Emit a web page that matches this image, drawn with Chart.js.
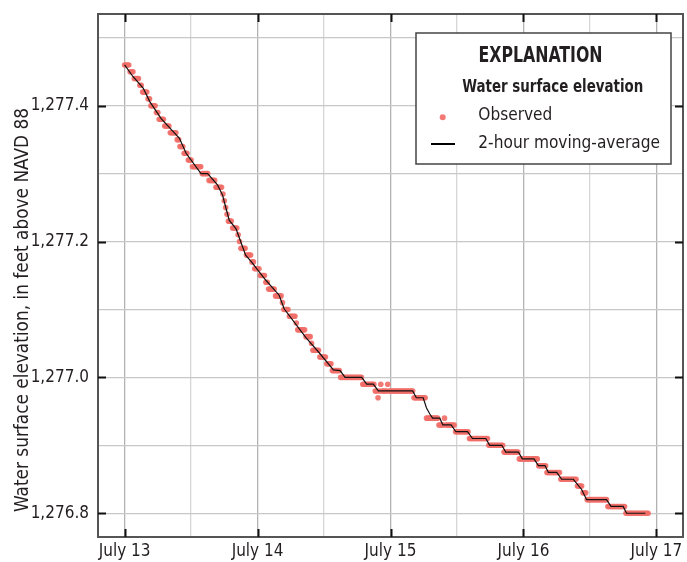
<!DOCTYPE html>
<html>
<head>
<meta charset="utf-8">
<script src="https://cdn.jsdelivr.net/npm/chart.js@4.4.1/dist/chart.umd.min.js"></script>
<style>
  html, body { margin: 0; padding: 0; background: #fff; }
  canvas { display: block; }
</style>
</head>
<body>
<canvas id="c" width="687" height="562"></canvas>
<script>
// ---------- DATA ----------
const dayTickHours = [0, 24, 48, 72, 96];
const dayTickLabels = ['July 13', 'July 14', 'July 15', 'July 16', 'July 17'];
const elevTickValues = [1276.8, 1277.0, 1277.2, 1277.4];

// Observed readings, every 15 minutes starting July 13 00:00
const obsStartHour = 0;
const obsStepHours = 0.25;
const obsValues = [
  1277.46,1277.46,1277.46,1277.46, 1277.45,1277.45,1277.45,1277.44,
  1277.44,1277.44,1277.44,1277.43, 1277.43,1277.42,1277.42,1277.42,
  1277.42,1277.41,1277.41,1277.40, 1277.40,1277.40,1277.40,1277.39,
  1277.39,1277.38,1277.38,1277.38, 1277.38,1277.37,1277.37,1277.37,
  1277.37,1277.36,1277.36,1277.36, 1277.36,1277.36,1277.35,1277.35,
  1277.34,1277.34,1277.34,1277.33, 1277.33,1277.33,1277.32,1277.32,
  1277.32,1277.31,1277.31,1277.31, 1277.31,1277.31,1277.31,1277.31,
  1277.30,1277.30,1277.30,1277.30, 1277.30,1277.29,1277.29,1277.29,
  1277.29,1277.29,1277.28,1277.28, 1277.28,1277.28,1277.28,1277.27,
  1277.26,1277.25,1277.24,1277.23, 1277.23,1277.23,1277.22,1277.22,
  1277.22,1277.22,1277.21,1277.20, 1277.19,1277.19,1277.19,1277.19,
  1277.18,1277.18,1277.18,1277.18, 1277.17,1277.17,1277.16,1277.16,
  1277.16,1277.16,1277.15,1277.15, 1277.15,1277.15,1277.14,1277.14,
  1277.13,1277.13,1277.13,1277.13, 1277.13,1277.12,1277.12,1277.12,
  1277.12,1277.12,1277.11,1277.10, 1277.10,1277.10,1277.10,1277.09,
  1277.09,1277.09,1277.09,1277.09, 1277.08,1277.07,1277.07,1277.07,
  1277.07,1277.07,1277.07,1277.06, 1277.06,1277.06,1277.06,1277.05,
  1277.04,1277.04,1277.04,1277.04, 1277.04,1277.03,1277.03,1277.03,
  1277.03,1277.03,1277.02,1277.02, 1277.02,1277.02,1277.01,1277.01,
  1277.01,1277.01,1277.01,1277.01, 1277.00,1277.00,1277.00,1277.00,
  1277.00,1277.00,1277.00,1277.00, 1277.00,1277.00,1277.00,1277.00,
  1277.00,1277.00,1277.00,1277.00, 1276.99,1276.99,1276.99,1276.99,
  1276.99,1276.99,1276.99,1276.99, 1276.99,1276.98,1276.98,1276.97,
  1276.98,1276.99,1276.98,1276.98, 1276.98,1276.98,1276.99,1276.98,
  1276.98,1276.98,1276.98,1276.98, 1276.98,1276.98,1276.98,1276.98,
  1276.98,1276.98,1276.98,1276.98, 1276.98,1276.98,1276.98,1276.98,
  1276.98,1276.97,1276.97,1276.97, 1276.97,1276.97,1276.97,1276.97,
  1276.97,1276.97,1276.94,1276.94, 1276.94,1276.94,1276.94,1276.94,
  1276.94,1276.94,1276.94,1276.93, 1276.93,1276.93,1276.93,1276.94,
  1276.93,1276.93,1276.93,1276.93, 1276.93,1276.93,1276.93,1276.92,
  1276.92,1276.92,1276.92,1276.92, 1276.92,1276.92,1276.92,1276.92,
  1276.92,1276.91,1276.91,1276.91, 1276.91,1276.91,1276.91,1276.91,
  1276.91,1276.91,1276.91,1276.91, 1276.91,1276.91,1276.91,1276.90,
  1276.90,1276.90,1276.90,1276.90, 1276.90,1276.90,1276.90,1276.90,
  1276.90,1276.90,1276.89,1276.89, 1276.89,1276.89,1276.89,1276.89,
  1276.89,1276.89,1276.89,1276.89, 1276.89,1276.88,1276.88,1276.88,
  1276.88,1276.88,1276.88,1276.88, 1276.88,1276.88,1276.88,1276.88,
  1276.88,1276.88,1276.88,1276.87, 1276.87,1276.87,1276.87,1276.87,
  1276.87,1276.86,1276.86,1276.86, 1276.86,1276.86,1276.86,1276.86,
  1276.86,1276.86,1276.86,1276.85, 1276.85,1276.85,1276.85,1276.85,
  1276.85,1276.85,1276.85,1276.85, 1276.85,1276.85,1276.85,1276.84,
  1276.84,1276.84,1276.84,1276.83, 1276.83,1276.83,1276.82,1276.82,
  1276.82,1276.82,1276.82,1276.82, 1276.82,1276.82,1276.82,1276.82,
  1276.82,1276.82,1276.82,1276.82, 1276.82,1276.81,1276.81,1276.81,
  1276.81,1276.81,1276.81,1276.81, 1276.81,1276.81,1276.81,1276.81,
  1276.81,1276.81,1276.80,1276.80, 1276.80,1276.80,1276.80,1276.80,
  1276.80,1276.80,1276.80,1276.80, 1276.80,1276.80,1276.80,1276.80,
  1276.80,1276.80,1276.80
];

// 2-hour moving-average line (hours since July 13 00:00, elevation)
const maHours = [0,1.5,3.35,4.55,6.6,9.9,11.1,13.8,15.0,16.8,17.7,18.3,18.9,20.1,21.0,
  21.85,22.9,25.5,27.9,28.8,32.7,35.05,37.7,38.9,39.8,42.8,43.7,44.9,45.8,52.0,
  52.66,53.9,54.5,55.1,55.6,56.9,57.45,58.95,59.8,61.9,62.8,65.2,65.9,68.1,68.8,
  71.1,71.8,73.9,74.7,75.9,76.5,78.0,78.9,81.0,82.5,83.4,87.0,87.8,90.0,90.6,94.0];
const maValues = [1277.46,1277.443,1277.426,1277.406,1277.381,1277.352,1277.33,1277.30,1277.30,1277.283,
  1277.268,1277.249,1277.231,1277.219,1277.199,1277.18,1277.17,1277.143,1277.121,1277.101,
  1277.059,1277.037,1277.011,1277.01,1277.00,1277.00,1276.99,1276.99,1276.98,1276.98,
  1276.97,1276.97,1276.955,1276.946,1276.94,1276.94,1276.93,1276.93,1276.92,1276.92,
  1276.91,1276.91,1276.90,1276.90,1276.89,1276.89,1276.88,1276.88,1276.87,1276.87,
  1276.86,1276.86,1276.85,1276.85,1276.835,1276.82,1276.82,1276.81,1276.81,1276.80,1276.80];

const legendTitle = 'EXPLANATION';
const legendSubtitle = 'Water surface elevation';
const yTitle = 'Water surface elevation, in feet above NAVD 88';

// ---------- CHART ----------
const FONT = "'Liberation Sans Narrow', 'Arial Narrow', 'DejaVu Sans Condensed', sans-serif";
const RED = 'rgba(241,110,104,0.92)';

const obsPoints = obsValues.map((v, i) => ({ x: obsStartHour + i * obsStepHours, y: v }));
const maPoints = maHours.map((h, i) => ({ x: h, y: maValues[i] }));

function fitText(ctx, text, x, y, w, align) {
  const m = ctx.measureText(text).width;
  ctx.save();
  ctx.translate(x, y);
  ctx.scale(w / m, 1);
  ctx.textAlign = align;
  ctx.fillText(text, 0, 0);
  ctx.restore();
}

const decorPlugin = {
  id: 'decor',
  afterDraw(chart) {
    const ctx = chart.ctx;
    const a = chart.chartArea;
    const xs = chart.scales.x, ys = chart.scales.y;
    ctx.save();
    // frame
    ctx.strokeStyle = '#555';
    ctx.lineWidth = 2;
    ctx.strokeRect(a.left, a.top, a.right - a.left, a.bottom - a.top);
    // inward ticks
    ctx.strokeStyle = '#111';
    ctx.lineWidth = 2;
    const TL = 8;
    ctx.beginPath();
    dayTickHours.forEach(h => {
      const px = Math.round(xs.getPixelForValue(h)) + 0.5;
      ctx.moveTo(px, a.bottom); ctx.lineTo(px, a.bottom - TL);
      ctx.moveTo(px, a.top); ctx.lineTo(px, a.top + TL);
    });
    elevTickValues.forEach(v => {
      const py = Math.round(ys.getPixelForValue(v)) + 0.5;
      ctx.moveTo(a.left, py); ctx.lineTo(a.left + TL, py);
      ctx.moveTo(a.right, py); ctx.lineTo(a.right - TL, py);
    });
    ctx.stroke();

    // legend box
    const lx = 416, ly = 33, lw = 255, lh = 131;
    ctx.fillStyle = '#fff';
    ctx.fillRect(lx, ly, lw, lh);
    ctx.strokeStyle = '#444';
    ctx.lineWidth = 1.5;
    ctx.strokeRect(lx, ly, lw, lh);
    ctx.fillStyle = '#231f20';
    ctx.textBaseline = 'alphabetic';
    ctx.font = 'bold 21px ' + FONT;
    fitText(ctx, legendTitle, 540.5, 61.5, 124, 'center');
    ctx.font = 'bold 17px ' + FONT;
    fitText(ctx, legendSubtitle, 552.8, 92.3, 181, 'center');
    ctx.font = '17px ' + FONT;
    const ds = chart.data.datasets;
    fitText(ctx, ds[1].label, 478.3, 120, 74, 'left');
    fitText(ctx, ds[0].label, 478.3, 148.3, 181.7, 'left');
    ctx.fillStyle = RED;
    ctx.beginPath(); ctx.arc(442.7, 117.3, 3, 0, Math.PI * 2); ctx.fill();
    ctx.strokeStyle = '#000';
    ctx.lineWidth = 2;
    ctx.beginPath(); ctx.moveTo(431, 144); ctx.lineTo(455, 144); ctx.stroke();

    // y axis title
    ctx.fillStyle = '#231f20';
    ctx.font = '19px ' + FONT;
    ctx.save();
    ctx.translate(28, 310);
    ctx.rotate(-Math.PI / 2);
    fitText(ctx, yTitle, 0, 0, 404, 'center');
    ctx.restore();
    ctx.restore();
  }
};

new Chart(document.getElementById('c'), {
  type: 'scatter',
  data: {
    datasets: [
      {
        label: '2-hour moving-average',
        data: maPoints,
        showLine: true,
        borderColor: '#111',
        borderWidth: 1.2,
        pointRadius: 0,
        tension: 0,
        order: 0
      },
      {
        label: 'Observed',
        data: obsPoints,
        backgroundColor: RED,
        borderWidth: 0,
        pointRadius: 2.8,
        order: 1
      }
    ]
  },
  options: {
    responsive: false,
    devicePixelRatio: 1,
    animation: false,
    layout: { padding: { top: 14, right: 2.5, left: 0, bottom: 0 } },
    plugins: { legend: { display: false }, tooltip: { enabled: false } },
    scales: {
      x: {
        type: 'linear',
        min: -4.8,
        max: 100.8,
        afterFit: s => { s.height = 25; s.paddingLeft = 0; s.paddingRight = 0; },
        border: { display: false },
        grid: {
          drawTicks: false,
          lineWidth: 1.3,
          color: c => (c.tick && c.tick.value % 24 === 0) ? '#b3b3b3' : '#d6d6d6'
        },
        ticks: {
          stepSize: 12,
          includeBounds: false,
          maxRotation: 0,
          autoSkip: false,
          padding: 4,
          color: '#231f20',
          font: { family: FONT, size: 17 },
          callback: v => { const i = dayTickHours.indexOf(v); return i >= 0 ? dayTickLabels[i] : ''; }
        }
      },
      y: {
        type: 'linear',
        min: 1276.765,
        max: 1277.535,
        afterFit: s => { s.width = 98; s.paddingTop = 0; s.paddingBottom = 0; },
        border: { display: false },
        grid: { drawTicks: false, lineWidth: 1.3, color: '#c8c8c8' },
        ticks: {
          stepSize: 0.1,
          includeBounds: false,
          autoSkip: false,
          padding: 9,
          color: '#231f20',
          font: { family: FONT, size: 17 },
          callback: v => {
            const hit = elevTickValues.find(t => Math.abs(t - v) < 1e-6);
            return hit !== undefined ? hit.toLocaleString('en-US', { minimumFractionDigits: 1, maximumFractionDigits: 1 }) : '';
          }
        }
      }
    }
  },
  plugins: [decorPlugin]
});
</script>
</body>
</html>
